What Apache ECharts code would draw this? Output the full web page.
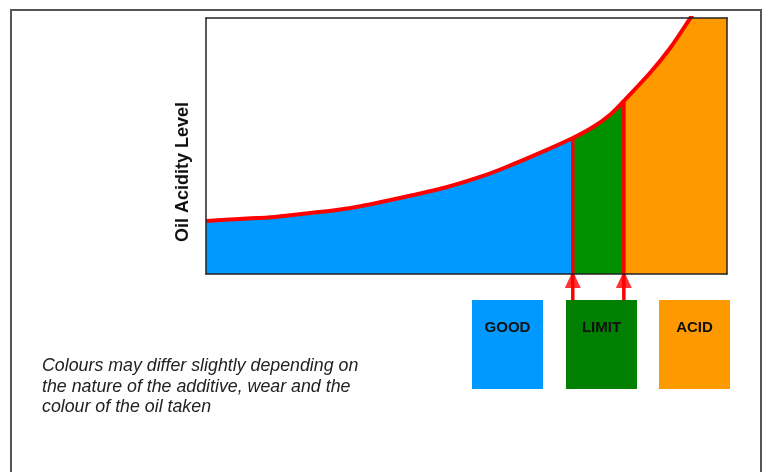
<!DOCTYPE html>
<html>
<head>
<meta charset="utf-8">
<script src="https://cdn.jsdelivr.net/npm/echarts@6/dist/echarts.min.js"></script>
<style>
  html, body { margin: 0; padding: 0; background: #ffffff; }
  #chart { width: 766px; height: 472px; }
</style>
</head>
<body>
<div id="chart"></div>
<script>
// Curve (x: usage 0..100, y: acidity 0..100 of plot height)
const curveX = [0, 6.5, 13.2, 20.0, 27.8, 37.2, 46.3, 52.6, 57.2, 64.1, 70.4, 74.3, 77.5, 80.2, 85.2, 89.1, 92.7, 100];
const curveY = [20.7, 21.5, 22.3, 23.8, 25.8, 29.7, 34.0, 37.9, 41.4, 47.3, 53.1, 57.4, 62.1, 67.6, 78.5, 88.3, 99.2, 122];
const limitStart = 70.4;
const acidStart = 80.2;
const zoneNames = ['GOOD', 'LIMIT', 'ACID'];
const zoneAreaColors = ['#0099FF', '#009000', '#FF9900'];
const zoneBoxColors = ['#0099FF', '#007F00', '#FF9900'];
const axisTitle = 'Oil Acidity Level';
const noteLines = ['Colours may differ slightly depending on', 'the nature of the additive, wear and the', 'colour of the oil taken'];
const arrowBottom = -10.2;

const pts = curveX.map((x, i) => [x, curveY[i]]);
const zoneGood = pts.filter(p => p[0] <= limitStart);
const zoneLimit = pts.filter(p => p[0] >= limitStart && p[0] <= acidStart);
const zoneAcid = pts.filter(p => p[0] >= acidStart);
const yAt = x => pts.find(p => p[0] === x)[1];

function areaSeries(data, color) {
  return {
    type: 'line', data: data, symbol: 'none', smooth: 0.3, clip: true,
    lineStyle: { width: 0, color: color }, itemStyle: { color: color },
    areaStyle: { color: color, opacity: 1 }, z: 2, silent: true
  };
}
function marker(x) {
  return [
    { type: 'line', data: [[x, yAt(x)], [x, arrowBottom]], symbol: 'none', clip: false,
      lineStyle: { color: '#FF0000', width: 3.5 }, z: 6, silent: true },
    { type: 'scatter', data: [[x, -2.1]], symbol: 'triangle', symbolSize: [16, 17], clip: false,
      itemStyle: { color: '#FF0000' }, z: 7, silent: true }
  ];
}

const font = '"Liberation Sans", Arial, sans-serif';
const boxX = [472, 566, 659];
const graphics = [
  { type: 'rect', shape: { x: 11, y: 10, width: 750, height: 480 },
    style: { fill: 'none', stroke: '#555555', lineWidth: 2 }, z: 0 },
  { type: 'text', x: 183, y: 172, rotation: Math.PI / 2,
    style: { text: axisTitle, font: 'bold 18px ' + font, fill: '#111', align: 'center', verticalAlign: 'middle' } },
  { type: 'text', left: 42, top: 356,
    style: { text: noteLines.join('\n'), font: 'italic 17.8px ' + font, fill: '#222', lineHeight: 20.5 } }
];
zoneNames.forEach((n, i) => {
  graphics.push({ type: 'rect', shape: { x: boxX[i], y: 300, width: 71, height: 89 }, style: { fill: zoneBoxColors[i] } });
  graphics.push({ type: 'text', x: boxX[i] + 35.5, y: 328,
    style: { text: n, font: 'bold 15px ' + font, fill: '#111', align: 'center', verticalAlign: 'middle' } });
});

const chart = echarts.init(document.getElementById('chart'), null, { renderer: 'canvas' });
const axisCommon = { type: 'value', min: 0, max: 100, axisTick: { show: false }, axisLabel: { show: false },
  splitLine: { show: false }, axisLine: { show: true, onZero: false, lineStyle: { color: '#222', width: 1.5 } }, z: 10 };
chart.setOption({
  animation: false,
  grid: { left: 206, top: 18, right: 39, bottom: 198 },
  xAxis: [Object.assign({ position: 'bottom' }, axisCommon), Object.assign({ position: 'top' }, axisCommon)],
  yAxis: [Object.assign({ position: 'left' }, axisCommon), Object.assign({ position: 'right' }, axisCommon)],
  series: [
    areaSeries(zoneGood, zoneAreaColors[0]),
    areaSeries(zoneLimit, zoneAreaColors[1]),
    areaSeries(zoneAcid, zoneAreaColors[2]),
    { type: 'line', data: pts, symbol: 'none', smooth: 0.3, clip: true, lineStyle: { color: '#FF0000', width: 4 }, z: 8, silent: true },
    ...marker(limitStart),
    ...marker(acidStart)
  ],
  graphic: graphics
});
</script>
</body>
</html>
